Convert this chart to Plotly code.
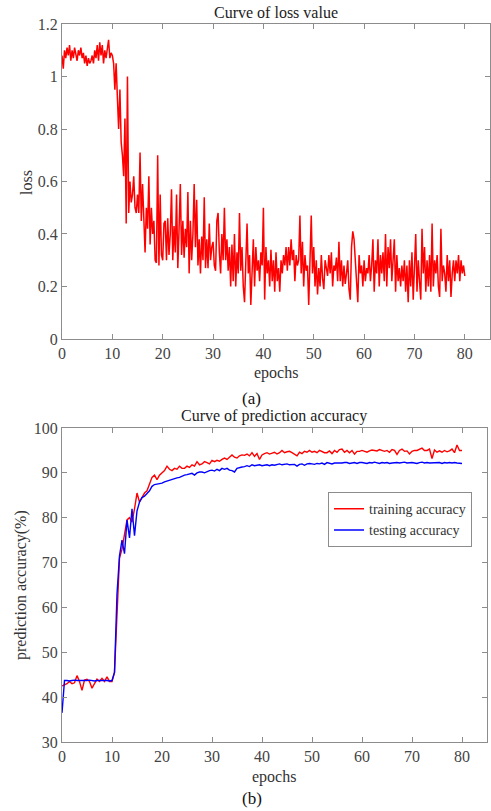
import plotly.graph_objects as go

# ---------------- data ----------------
# loss value, sampled every 0.25 epoch (epoch 0 .. 80)
loss = [
    1.08, 1.03, 1.10, 1.07,  1.11, 1.08, 1.12, 1.06,  1.10, 1.07, 1.11, 1.08,
    1.06, 1.10, 1.08, 1.11,  1.07, 1.09, 1.05, 1.08,  1.04, 1.07, 1.05, 1.06,
    1.08, 1.05, 1.10, 1.07,  1.12, 1.06, 1.13, 1.08,  1.12, 1.05, 1.10, 1.07,
    1.10, 1.14, 1.07, 1.09,  1.08, 1.05, 0.95, 1.05,  0.92, 0.80, 0.95, 0.75,
    0.70, 0.62, 0.84, 0.44,  1.00, 0.48, 0.60, 0.52,  0.55, 0.62, 0.50, 0.48,
    0.55, 0.48, 0.71, 0.45,  0.59, 0.48, 0.33, 0.50,  0.42, 0.62, 0.36, 0.50,
    0.40, 0.45, 0.30, 0.29,  0.70, 0.28, 0.55, 0.32,  0.30, 0.44, 0.45, 0.30,
    0.46, 0.32, 0.40, 0.57,  0.30, 0.43, 0.33, 0.55,  0.27, 0.42, 0.59, 0.32,
    0.45, 0.31, 0.42, 0.35,  0.56, 0.25, 0.45, 0.30,  0.40, 0.59, 0.35, 0.53,
    0.28, 0.38, 0.25, 0.39,  0.30, 0.54, 0.27, 0.38,  0.27, 0.44, 0.30, 0.35,
    0.37, 0.28, 0.26, 0.45,  0.48, 0.33, 0.25, 0.40,  0.30, 0.50, 0.30, 0.38,
    0.26, 0.35, 0.20, 0.36,  0.22, 0.40, 0.20, 0.33,  0.25, 0.48, 0.26, 0.35,
    0.20, 0.14, 0.30, 0.44,  0.25, 0.32, 0.13, 0.28,  0.38, 0.20, 0.35, 0.26,
    0.30, 0.22, 0.33, 0.28,  0.50, 0.15, 0.35, 0.25,  0.30, 0.20, 0.34, 0.22,
    0.30, 0.18, 0.33, 0.22,  0.27, 0.18, 0.30, 0.25,  0.32, 0.28, 0.35, 0.26,
    0.35, 0.28, 0.38, 0.30,  0.34, 0.22, 0.32, 0.28,  0.30, 0.47, 0.25, 0.37,
    0.20, 0.32, 0.26, 0.28,  0.13, 0.30, 0.47, 0.25,  0.35, 0.20, 0.30, 0.17,
    0.27, 0.20, 0.32, 0.23,  0.19, 0.30, 0.27, 0.24,  0.32, 0.25, 0.33, 0.20,
    0.28, 0.26, 0.31, 0.22,  0.37, 0.22, 0.30, 0.20,  0.28, 0.21, 0.25, 0.30,
    0.19, 0.15, 0.35, 0.41,  0.38, 0.27, 0.22, 0.14,  0.32, 0.25, 0.28, 0.20,
    0.30, 0.22, 0.27, 0.25,  0.32, 0.22, 0.28, 0.38,  0.18, 0.30, 0.25, 0.38,
    0.20, 0.32, 0.25, 0.33,  0.22, 0.40, 0.20, 0.35,  0.27, 0.38, 0.22, 0.30,
    0.38, 0.18, 0.32, 0.22,  0.27, 0.20, 0.28, 0.22,  0.30, 0.18, 0.28, 0.14,
    0.30, 0.20, 0.33, 0.15,  0.28, 0.40, 0.18, 0.30,  0.22, 0.15, 0.42, 0.25,
    0.35, 0.18, 0.30, 0.20,  0.32, 0.18, 0.44, 0.20,  0.30, 0.25, 0.32, 0.20,
    0.16, 0.42, 0.22, 0.28,  0.25, 0.18, 0.32, 0.22,  0.30, 0.16, 0.25, 0.30,
    0.22, 0.30, 0.25, 0.32,  0.22, 0.30, 0.25, 0.28,  0.24,
]
LOSS_STEP = 0.25

# accuracy (%), sampled every 0.5 epoch (epoch 0 .. 80)
train_acc = [
    42.5, 42.8, 43.0, 43.5, 43.0, 43.2, 44.8, 43.5, 41.5, 43.8,
    44.0, 43.5, 42.0, 43.0, 44.0, 43.5, 44.2, 43.5, 44.5, 43.5,
    43.5, 45.5, 60.0, 71.0, 73.0, 76.5, 79.5, 80.0, 79.0, 82.0,
    85.5, 83.5, 84.5, 85.5, 86.0, 87.5, 89.0, 89.5, 88.5, 89.5,
    90.0, 90.5, 91.5, 90.8, 90.5, 91.0, 90.8, 91.5, 91.0, 91.0,
    91.5, 91.2, 91.8, 91.5, 92.5, 91.8, 92.0, 92.5, 92.3, 92.0,
    92.8, 92.5, 92.8, 92.6, 93.0, 93.3, 93.0, 93.6, 94.0, 93.5,
    93.3, 93.8, 94.0, 93.9, 94.2, 93.8, 94.5, 93.7, 94.3, 93.0,
    94.0, 94.3, 94.5, 94.2, 94.4, 94.6, 94.2, 94.5, 95.0, 94.5,
    94.7, 94.8, 94.5, 94.2, 93.8, 94.6, 94.3, 94.8, 94.6, 95.0,
    94.6, 94.8, 94.5, 95.0, 94.8, 94.5, 94.5, 94.9, 94.3, 95.0,
    94.6, 95.2, 95.3, 94.6, 95.0, 94.5, 95.0, 94.2, 94.8, 94.8,
    95.0, 94.8, 94.6, 94.9, 95.1, 95.0, 94.9, 95.2, 95.0, 94.8,
    95.0, 94.6, 95.2, 95.0, 94.1, 95.0, 95.3, 94.8, 94.9, 94.2,
    94.8, 95.0, 95.0, 95.2, 95.5, 95.0, 95.0, 95.3, 93.2, 95.1,
    94.6, 94.9, 94.6, 95.0, 94.7, 94.9, 95.3, 94.5, 96.2, 95.0,
    95.0,
]
test_acc = [
    36.5, 43.7, 43.7, 43.6, 43.7, 43.8, 43.7, 43.7, 43.6, 43.7,
    43.7, 43.8, 43.7, 43.6, 43.7, 43.7, 43.8, 43.7, 43.7, 43.6,
    43.7, 45.5, 63.0, 71.5, 75.0, 72.0, 79.5, 75.5, 82.0, 76.0,
    81.5, 83.5, 84.5, 84.8, 85.5, 86.0, 87.0, 87.4, 87.5, 87.6,
    87.7, 88.0, 88.2, 88.3, 88.5, 88.8, 88.9, 89.0, 89.3, 89.5,
    89.6, 89.8, 89.9, 89.5, 90.0, 90.2, 90.2, 90.0, 90.3, 90.5,
    90.6, 90.4, 90.8, 90.5, 91.0, 90.8, 91.0, 90.6, 90.5, 90.2,
    91.0, 91.2, 91.3, 91.4, 91.6, 91.4, 91.8, 91.6, 91.7, 91.8,
    91.6, 91.7, 91.8, 91.6, 91.8, 91.7, 91.8, 92.0, 91.8, 91.9,
    92.0, 91.8, 91.8, 91.9, 91.5, 91.9, 92.0, 91.7, 92.0, 92.1,
    92.0, 91.9, 92.1, 92.0, 92.2, 91.9, 92.3, 92.1, 92.0, 92.2,
    92.2, 92.1, 92.2, 92.3, 92.3, 92.1, 92.2, 92.3, 92.1, 92.3,
    92.3, 92.2, 92.1, 92.3, 92.2, 92.4, 92.2, 92.1, 92.3, 92.2,
    92.3, 92.1, 92.2, 92.3, 92.3, 92.2, 92.3, 92.4, 92.2, 92.3,
    92.3, 92.2, 92.1, 92.3, 92.4, 92.2, 92.3, 92.2, 92.2, 92.3,
    92.2, 92.3, 92.1, 92.3, 92.2, 92.3, 92.2, 92.3, 92.2, 92.1,
    92.1,
]
ACC_STEP = 0.5

x_ticks = [0, 10, 20, 30, 40, 50, 60, 70, 80]
loss_ticks = [0, 0.2, 0.4, 0.6, 0.8, 1, 1.2]
acc_ticks = [30, 40, 50, 60, 70, 80, 90, 100]

loss_x = [i * LOSS_STEP for i in range(len(loss))]
acc_x = [i * ACC_STEP for i in range(len(train_acc))]

# ---------------- figure ----------------
FONT = "Liberation Serif"
TICK_COL = "#444444"
AX_COL = "#8c8c8c"

fig = go.Figure()
fig.add_trace(go.Scatter(x=loss_x, y=loss, mode="lines",
                         line=dict(color="#ff0000", width=1.5),
                         showlegend=False, xaxis="x", yaxis="y"))
fig.add_trace(go.Scatter(x=acc_x, y=train_acc, mode="lines", name="training accuracy",
                         line=dict(color="#ff0000", width=1.4),
                         xaxis="x2", yaxis="y2"))
fig.add_trace(go.Scatter(x=acc_x, y=test_acc, mode="lines", name="testing accuracy",
                         line=dict(color="#0000ff", width=1.4),
                         xaxis="x2", yaxis="y2"))

axis_common = dict(showline=True, linecolor=AX_COL, linewidth=1, mirror="ticks",
                   ticks="inside", ticklen=5, tickcolor=AX_COL, showgrid=False,
                   zeroline=False, tickfont=dict(family=FONT, size=16, color=TICK_COL))

fig.update_layout(
    width=491, height=811,
    margin=dict(l=62, r=1, t=24, b=69),
    paper_bgcolor="white", plot_bgcolor="white",
    xaxis=dict(domain=[0, 1], range=[0, 85], tickvals=x_ticks, anchor="y", **axis_common),
    yaxis=dict(domain=[0.5613, 1], range=[0, 1.2], tickvals=loss_ticks, anchor="x", **axis_common),
    xaxis2=dict(domain=[0, 0.993], range=[0, 85], tickvals=x_ticks, anchor="y2", **axis_common),
    yaxis2=dict(domain=[0, 0.4373], range=[30, 100], tickvals=acc_ticks, anchor="x2", **axis_common),
    legend=dict(x=0.958, y=0.348, xanchor="right", yanchor="top",
                bgcolor="white", bordercolor=AX_COL, borderwidth=1,
                font=dict(family=FONT, size=14, color="#333333"),
                tracegroupgap=0),
)

def ann(text, x, y, size=16, angle=0, color="#333333"):
    fig.add_annotation(text=text, x=x, y=y, xref="paper", yref="paper",
                       showarrow=False, textangle=angle,
                       xanchor="center", yanchor="middle",
                       font=dict(family=FONT, size=size, color=color))

ann("Curve of loss value", 0.5, 1.0167, size=16, color="#222222")
ann("epochs", 0.5, 0.5139)
ann("(a)", 0.4439, 0.4791, size=17, color="#111111")
ann("loss", -0.0818, 0.78, angle=-90)
ann("Curve of prediction accuracy", 0.495, 0.4540, size=16, color="#222222")
ann("epochs", 0.495, -0.0487)
ann("(b)", 0.4439, -0.078, size=17, color="#111111")
ann("prediction accuracy(%)", -0.0958, 0.2187, angle=-90)

fig.write_html("out.html",
               config={"displayModeBar": False},
               post_script="document.body.style.margin='0';document.body.style.overflow='hidden';")
